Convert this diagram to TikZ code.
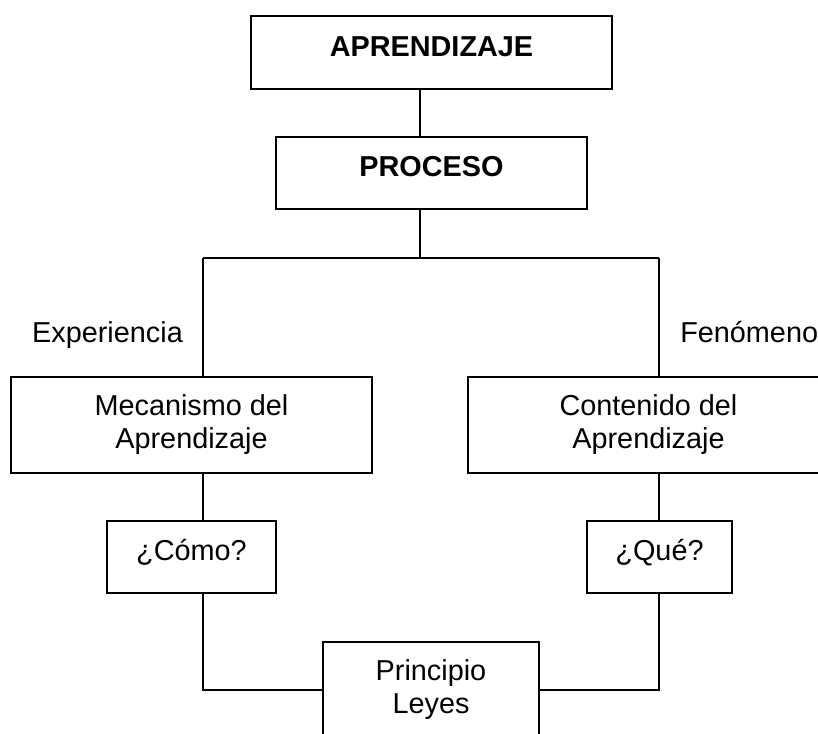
\documentclass[tikz,border=0pt]{standalone}
\usepackage{fontspec}
\setmainfont{Liberation Sans}
\newcommand{\boxfont}{\fontsize{20.5}{23.5}\selectfont}

\begin{document}
\begin{tikzpicture}[x=0.025cm, y=-0.025cm,
    box/.style={draw, line width=1.3pt, inner sep=0pt, font=\boxfont},
    onebox/.style={box, text height=15pt, text depth=10pt},
    twobox/.style={box, align=center},
    link/.style={line width=0.9pt}]

    % Canvas
    \useasboundingbox (0,0) rectangle (818,733);
    \clip (0,0) rectangle (818,733);

    % Top of the tree
    \node[onebox, minimum width=9.025cm, minimum height=1.825cm, font=\boxfont\bfseries] (apr) at (431.5,52.5) {APRENDIZAJE};
    \node[onebox, minimum width=7.775cm, minimum height=1.8cm, font=\boxfont\bfseries] (proc) at (431.5,173) {PROCESO};

    % Branch points
    \coordinate (hub) at (420,258);
    \coordinate (lft) at (203,258);
    \coordinate (rgt) at (659,258);

    % Branch labels
    \node[inner sep=0pt, anchor=base, font=\boxfont] (exp) at (107.5,342) {Experiencia};
    \node[inner sep=0pt, anchor=base west, font=\boxfont] (fen) at (680,342) {Fenómeno};

    % Mechanism and content
    \node[twobox, minimum width=9.025cm, minimum height=2.4cm] (mec) at (191.5,425) {Mecanismo del\\Aprendizaje};
    \node[twobox, minimum width=9.025cm, minimum height=2.4cm] (cont) at (648.5,425) {Contenido del\\Aprendizaje};

    % Questions
    \node[onebox, minimum width=4.225cm, minimum height=1.8cm] (como) at (191.5,557) {¿Cómo?};
    \node[onebox, minimum width=3.625cm, minimum height=1.8cm] (que) at (659.5,557) {¿Qué?};

    % Bottom box
    \node[twobox, minimum width=5.4cm, minimum height=2.4cm] (prin) at (431,690) {Principio\\Leyes};

    % Connections
    \draw[link] (apr.south -| hub) -- (proc.north -| hub);
    \draw[link] (proc.south -| hub) -- (hub);
    \draw[link] (lft) -- (rgt);
    \draw[link] (lft) -- (mec.north -| lft);
    \draw[link] (rgt) -- (cont.north -| rgt);
    \draw[link] (mec.south -| lft) -- (como.north -| lft);
    \draw[link] (cont.south -| rgt) -- (que.north -| rgt);
    \draw[link] (como.south -| lft) |- (prin.west);
    \draw[link] (que.south -| rgt) |- (prin.east);

\end{tikzpicture}
\end{document}
